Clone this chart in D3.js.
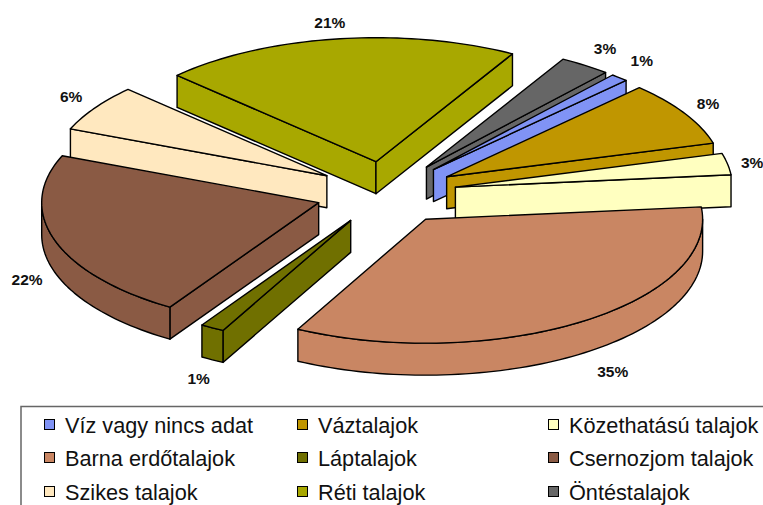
<!DOCTYPE html>
<html><head><meta charset="utf-8">
<script src="https://cdn.jsdelivr.net/npm/d3@7"></script>
<style>html,body{margin:0;padding:0;background:#fff;overflow:hidden}svg{display:block}</style>
</head><body><svg id="c" width="763" height="505"></svg>
<script>
const categories = ["Víz vagy nincs adat","Váztalajok","Közethatású talajok","Barna erdőtalajok","Láptalajok","Csernozjom talajok","Szikes talajok","Réti talajok","Öntéstalajok"];
const values = [1.05,8.4,2.8,34.3,1.4,22.2,6.1,21.0,3.0];
const labels = ["1%","8%","3%","35%","1%","22%","6%","21%","3%"];
const colors = ["#8093F5","#C09600","#FFFFC0","#C98663","#707000","#8A5A44","#FFE8BF","#A8A800","#666666"];
const drawOrder = [7,6,5,8,0,1,2,4,3];
const labelNudgeX = [0,-5,-8,13,3,4,4,-2,1];
const labelNudgeY = [-1,1,2,0,1,1,0,4,0];

const W=763,H=505,cx=386,cy=193,rx=277,ry=124,depth=32,explode=0.255;
const rad=d=>d*Math.PI/180;
const svg=d3.select("#c");
const xs=d3.scaleLinear().domain([-1,1]).range([cx-rx,cx+rx]);
const ys=d3.scaleLinear().domain([-1,1]).range([cy+ry,cy-ry]);
const start=rad(40.3);
const arcs=d3.pie().sort(null).value(d=>d).startAngle(start).endAngle(start+2*Math.PI)(values);
const line=d3.line();
const gPie=svg.append("g");
function pt(a,r,m,dy){
  return [xs(explode*Math.sin(m)+r*Math.sin(a)), ys(explode*Math.cos(m)+r*Math.cos(a))+(dy||0)];
}
function rim(a0,a1,m,dy){
  const n=Math.max(2,Math.ceil((a1-a0)/rad(1.5)));
  return d3.range(n+1).map(i=>pt(a0+(a1-a0)*i/n,1,m,dy));
}
function draw(points,fill){
  gPie.append("path").attr("d",line(points)+"Z").attr("fill",fill)
    .attr("stroke","#000").attr("stroke-width",1.4).attr("stroke-linejoin","round");
}
function faceVisible(a,m){
  const dx=Math.sin(a)*rx,dy=-Math.cos(a)*ry,mx=Math.sin(m)*rx,my=-Math.cos(m)*ry;
  const cross=dx*my-dy*mx;
  return dx>0?cross<0:cross>0;
}
drawOrder.forEach(i=>{
  const s=arcs[i],m=(s.startAngle+s.endAngle)/2,col=colors[i];
  const apex=pt(0,0,m),apexB=pt(0,0,m,depth);
  [s.startAngle,s.endAngle].forEach(a=>{
    if(faceVisible(a,m)) draw([apex,pt(a,1,m),pt(a,1,m,depth),apexB],col);
  });
  const a0=Math.max(s.startAngle,Math.PI/2),a1=Math.min(s.endAngle,3*Math.PI/2);
  if(a1>a0) draw(rim(a0,a1,m,0).concat(rim(a0,a1,m,depth).reverse()),col);
  draw([apex].concat(rim(s.startAngle,s.endAngle,m,0)),col);
});
// percentage labels
arcs.forEach((s,i)=>{
  const m=(s.startAngle+s.endAngle)/2;
  const c=Math.cos(m),sn=Math.sin(m);
  const ax=xs(explode*sn),ay=ys(explode*c);
  const lx=ax+sn*rx*1.12+labelNudgeX[i];
  const ly=ay-c*ry*1.17+(c<0?depth:0)+labelNudgeY[i];
  svg.append("text").attr("x",lx).attr("y",ly).attr("dy","0.35em")
    .attr("text-anchor","middle").attr("font-family","Liberation Sans, Arial, sans-serif")
    .attr("font-weight","bold").attr("font-size",15.5).attr("fill","#111").text(labels[i]);
});
// legend
svg.append("path").attr("d","M21,505V406.5H763").attr("fill","none").attr("stroke","#666").attr("stroke-width",1.5);
const colX=[44,297,548],rowY=[425,458,492];
categories.forEach((t,i)=>{
  const x=colX[i%3],y=rowY[Math.floor(i/3)];
  svg.append("rect").attr("x",x+.5).attr("y",y-5.5).attr("width",10).attr("height",10)
    .attr("fill",colors[i]).attr("stroke","#000").attr("stroke-width",1);
  svg.append("text").attr("x",x+21).attr("y",y).attr("dy","0.35em")
    .attr("font-family","Liberation Sans, Arial, sans-serif").attr("font-size",21.7).attr("fill","#111").text(t);
});
</script></body></html>
